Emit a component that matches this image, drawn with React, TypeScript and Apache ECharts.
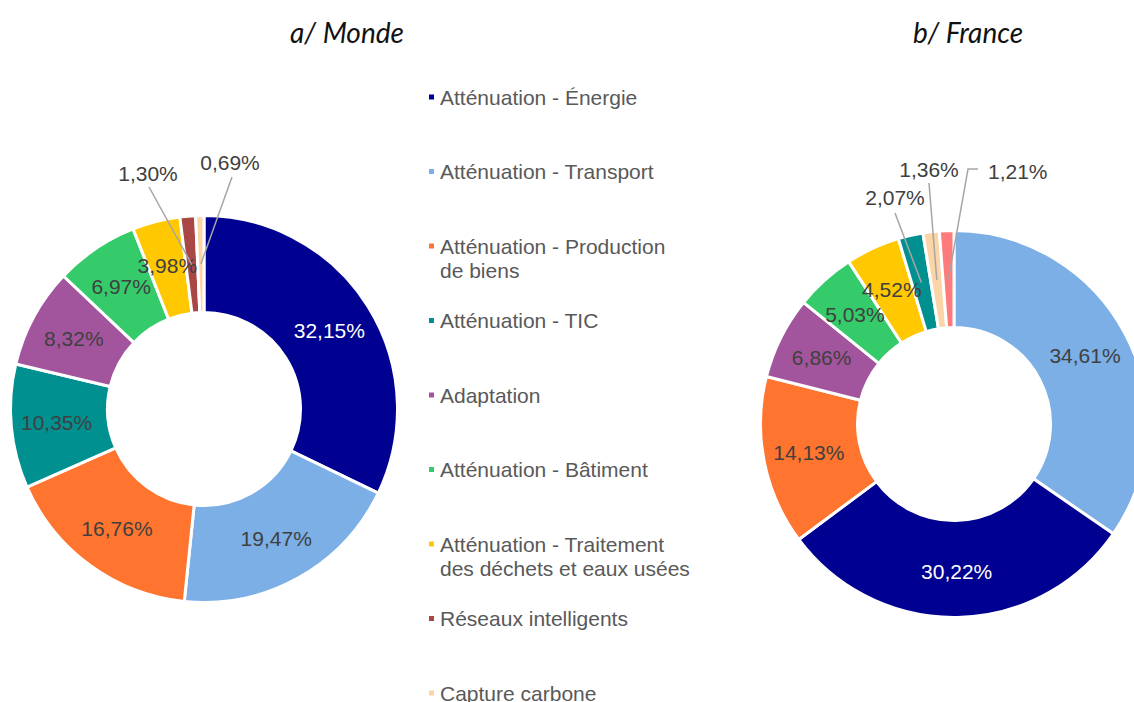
import React, { useEffect, useRef } from "react";
import * as echarts from "echarts";

// ---- Data ----
const categories = [
  "Atténuation - Énergie",
  "Atténuation - Transport",
  "Atténuation - Production de biens",
  "Atténuation - TIC",
  "Adaptation",
  "Atténuation - Bâtiment",
  "Atténuation - Traitement des déchets et eaux usées",
  "Réseaux intelligents",
  "Capture carbone",
];
const legendLabels = [
  "Atténuation - Énergie",
  "Atténuation - Transport",
  "Atténuation - Production\nde biens",
  "Atténuation - TIC",
  "Adaptation",
  "Atténuation - Bâtiment",
  "Atténuation - Traitement\ndes déchets et eaux usées",
  "Réseaux intelligents",
  "Capture carbone",
];
const categoryColors = [
  "#000091",
  "#7BAFE6",
  "#FF742E",
  "#00908F",
  "#A2559D",
  "#36CB6A",
  "#FFC800",
  "#A94646",
  "#FBD5A8",
];
const otherColor = "#FF7A7A";

const mondeCategories = [
  "Atténuation - Énergie",
  "Atténuation - Transport",
  "Atténuation - Production de biens",
  "Atténuation - TIC",
  "Adaptation",
  "Atténuation - Bâtiment",
  "Atténuation - Traitement des déchets et eaux usées",
  "Réseaux intelligents",
  "Capture carbone",
];
const mondeValues = [32.15, 19.47, 16.76, 10.35, 8.32, 6.97, 3.98, 1.3, 0.69];

const franceCategories = [
  "Atténuation - Transport",
  "Atténuation - Énergie",
  "Atténuation - Production de biens",
  "Adaptation",
  "Atténuation - Bâtiment",
  "Atténuation - Traitement des déchets et eaux usées",
  "Atténuation - TIC",
  "Capture carbone",
  "Autres",
];
const franceValues = [34.61, 30.22, 14.13, 6.86, 5.03, 4.52, 2.07, 1.36, 1.21];

const titles = ["a/ Monde", "b/ France"];

// ---- Layout (positions, not data) ----
const FONT = "'Liberation Sans', Arial, sans-serif";
const mondeCenter = [204, 409];
const franceCenter = [954, 424];
const radii = [96.5, 193.5];
const labelMidR = 145;

type OutLabel = { x: number; y: number; end: number[]; elbow?: number[]; align?: string };
const mondeOut: Record<number, OutLabel> = {
  7: { x: 148, y: 173, end: [149, 187] },
  8: { x: 230, y: 162, end: [232, 177] },
};
const franceOut: Record<number, OutLabel> = {
  6: { x: 895, y: 197, end: [895, 213] },
  7: { x: 929, y: 169, end: [929, 183] },
  8: { x: 988, y: 171, end: [978, 169], elbow: [968, 169], align: "left" },
};

const legendFirstLineY = 97;
const legendPitch = 74.5;
const legendLineH = 24;

function colorOf(name: string) {
  const i = categories.indexOf(name);
  return i >= 0 ? categoryColors[i] : otherColor;
}

function slicePoint(values: number[], idx: number, center: number[], r: number) {
  const total = values.reduce((a, b) => a + b, 0);
  let cum = 0;
  for (let i = 0; i < idx; i++) cum += values[i];
  cum += values[idx] / 2;
  const ang = (cum / total) * Math.PI * 2;
  return [center[0] + r * Math.sin(ang), center[1] - r * Math.cos(ang)];
}

function buildData(names: string[], values: number[], out: Record<number, OutLabel>) {
  return names.map((name, i) => {
    const dark = name === "Atténuation - Énergie";
    const item: any = {
      name,
      value: values[i],
      itemStyle: { color: colorOf(name) },
      label: { color: dark ? "#FFFFFF" : "#404040" },
    };
    if (out[i]) {
      item.label.position = "outside";
    }
    return item;
  });
}

function leaderLines(values: number[], center: number[], out: Record<number, OutLabel>) {
  return Object.keys(out).map((k) => {
    const idx = Number(k);
    const o = out[idx];
    const start = slicePoint(values, idx, center, labelMidR);
    const pts = o.elbow ? [start, o.elbow, o.end] : [start, o.end];
    return {
      type: "polyline",
      z: 100,
      silent: true,
      shape: { points: pts },
      style: { stroke: "#A6A6A6", lineWidth: 1.5, fill: null },
    };
  });
}

const fmt = (p: any) => Number(p.value).toFixed(2).replace(".", ",") + "%";

export default function App() {
  const ref = useRef<HTMLDivElement>(null);
  useEffect(() => {
    if (!ref.current) return;
    const chart = echarts.init(ref.current, undefined, { renderer: "svg" });

    const legends = categories.map((name, i) => {
      const lines = legendLabels[i].split("\n").length;
      const multi = lines > 1;
      const totalLines = multi ? lines * 2 - 1 : 1;
      const h = legendLineH * totalLines;
      const centerY = legendFirstLineY + i * legendPitch;
      return {
        left: 427,
        top: centerY - h / 2,
        orient: "vertical",
        padding: 0,
        itemGap: 0,
        icon: "rect",
        itemWidth: 7,
        itemHeight: 7,
        selectedMode: false,
        formatter: (n: string) => {
          const t = legendLabels[categories.indexOf(n)];
          return multi ? "\n".repeat(lines - 1) + t : t;
        },
        textStyle: {
          fontFamily: FONT,
          fontSize: 21,
          color: "#595959",
          lineHeight: legendLineH,
        },
        data: [{ name, itemStyle: { color: categoryColors[i] } }],
      };
    });

    const makeLayout = (seriesIndex: number, out: Record<number, OutLabel>) =>
      (params: any) => {
        if (params.seriesIndex !== seriesIndex) return {};
        const o = out[params.dataIndex];
        if (!o) return {};
        return {
          x: o.x,
          y: o.y,
          align: o.align || "center",
          verticalAlign: "middle",
        };
      };

    const titleStyle = {
      fontFamily: "Lato, 'Open Sans', sans-serif",
      fontStyle: "italic",
      fontWeight: "normal",
      fontSize: 28,
      color: "#111111",
    };

    const commonSeries = {
      type: "pie",
      radius: radii,
      startAngle: 90,
      clockwise: true,
      avoidLabelOverlap: false,
      itemStyle: { borderColor: "#FFFFFF", borderWidth: 3 },
      label: {
        show: true,
        position: "inside",
        formatter: fmt,
        fontFamily: FONT,
        fontSize: 21,
        color: "#404040",
      },
      labelLine: { show: false },
      emphasis: { disabled: true },
    };

    chart.setOption({
      animation: false,
      backgroundColor: "#FFFFFF",
      title: [
        { text: titles[0], left: 342, top: 13, textAlign: "center", textStyle: titleStyle },
        { text: titles[1], left: 963, top: 13, textAlign: "center", textStyle: titleStyle },
      ],
      legend: legends,
      graphic: [
        ...leaderLines(mondeValues, mondeCenter, mondeOut),
        ...leaderLines(franceValues, franceCenter, franceOut),
      ],
      series: [
        {
          ...commonSeries,
          name: titles[0],
          center: mondeCenter,
          data: buildData(mondeCategories, mondeValues, mondeOut),
          labelLayout: makeLayout(0, mondeOut),
        },
        {
          ...commonSeries,
          name: titles[1],
          center: franceCenter,
          data: buildData(franceCategories, franceValues, franceOut),
          labelLayout: makeLayout(1, franceOut),
        },
      ],
    } as any);

    return () => chart.dispose();
  }, []);

  return (
    <div
      ref={ref}
      style={{ position: "fixed", left: 0, top: 0, width: 1134, height: 702, background: "#fff" }}
    />
  );
}
